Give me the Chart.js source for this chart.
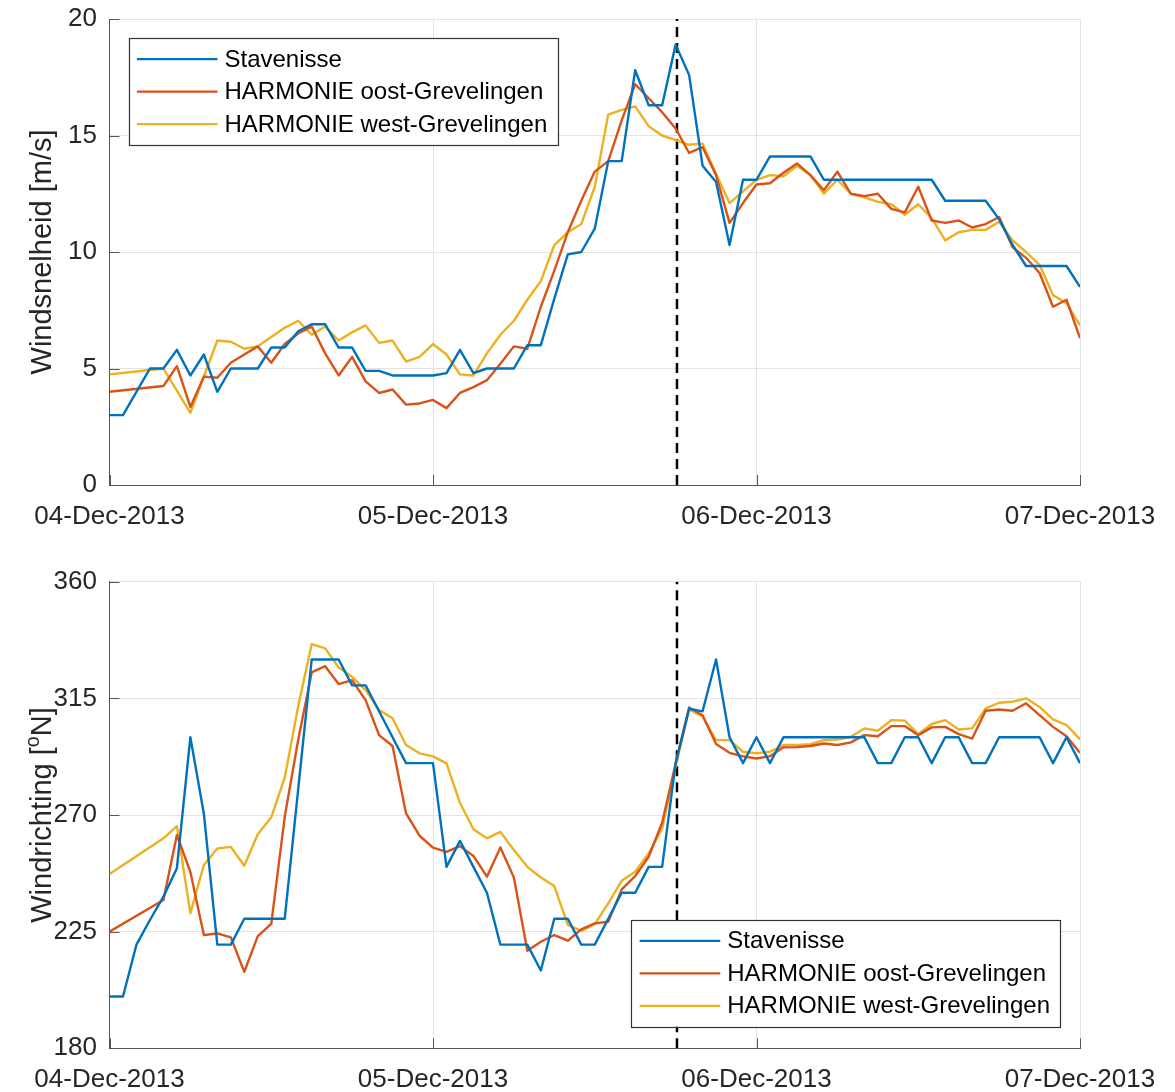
<!DOCTYPE html>
<html>
<head>
<meta charset="utf-8">
<title>Windsnelheid en windrichting</title>
<script src="https://cdn.jsdelivr.net/npm/chart.js@4.4.1/dist/chart.umd.min.js"></script>
<style>
  html, body { margin: 0; padding: 0; background: #fff; }
  .panel { position: absolute; left: 0; width: 1175px; height: 546px; }
</style>
</head>
<body>
<div class="panel" style="top:0px"><canvas id="speedChart"></canvas></div>
<div class="panel" style="top:546px"><canvas id="dirChart"></canvas></div>
<script>
// hourly values, 04-Dec-2013 00:00 .. 07-Dec-2013 00:00 (null = no sample)
var tickLabels = ['04-Dec-2013', '05-Dec-2013', '06-Dec-2013', '07-Dec-2013'];
var seriesNames = ['Stavenisse', 'HARMONIE oost-Grevelingen', 'HARMONIE west-Grevelingen'];
var eventHour = 42.1;

var speedStavenisse = [3.0,3.0,4.0,5.0,5.0,5.8,4.7,5.6,4.0,5.0,
  5.0,5.0,5.9,5.9,6.6,6.9,6.9,5.9,5.9,4.9,
  4.9,4.7,4.7,4.7,4.7,4.8,5.8,4.8,5.0,5.0,
  5.0,6.0,6.0,8.0,9.9,10.0,11.0,13.9,13.9,17.8,
  16.3,16.3,18.9,17.6,13.7,13.0,10.3,13.1,13.1,14.1,
  14.1,14.1,14.1,13.1,13.1,13.1,13.1,13.1,13.1,13.1,
  13.1,13.1,12.2,12.2,12.2,12.2,11.4,10.3,9.4,9.4,
  9.4,9.4,8.5];
var speedOost = [4.0,null,null,null,4.25,5.1,3.35,4.65,4.6,5.25,
  5.6,5.95,5.25,6.05,6.5,6.8,5.65,4.7,5.5,4.45,
  3.95,4.1,3.45,3.5,3.65,3.3,3.95,4.2,4.5,5.2,
  5.95,5.85,7.65,9.2,10.85,12.2,13.45,13.9,15.65,17.2,
  16.6,16.0,15.3,14.25,14.5,13.3,11.25,12.1,12.9,12.95,
  13.4,13.8,13.3,12.65,13.45,12.5,12.4,12.5,11.85,11.7,
  12.8,11.35,11.25,11.35,11.05,11.2,11.5,10.2,9.75,9.1,
  7.65,7.95,6.3];
var speedWest = [4.75,null,null,null,5.0,null,3.1,null,6.2,6.15,
  5.85,5.95,6.35,6.75,7.05,6.45,6.8,6.2,6.55,6.85,
  6.1,6.2,5.3,5.5,6.05,5.6,4.75,4.7,5.65,6.45,
  7.05,7.95,8.75,10.3,10.85,11.2,12.8,15.9,16.1,16.25,
  15.4,15.0,14.8,14.6,14.65,13.35,12.1,12.6,13.1,13.3,
  13.25,13.7,13.3,12.5,13.1,12.5,12.35,12.15,12.05,11.6,
  12.05,11.45,10.5,10.85,10.95,10.95,11.3,10.5,10.0,9.45,
  8.15,7.8,6.85];

var dirStavenisse = [200,200,220,229.5,238.5,249.5,300,270.5,220,220,
  230,230,230,230,280,330,330,330,320,320,
  310,300,290,290,290,250,260,250,240,220,
  220,220,210,230,230,220,220,230,240,240,
  250,250,290,311,310,330,300,290,300,290,
  300,300,300,300,300,300,300,290,290,300,
  300,290,300,300,290,290,300,300,300,300,
  290,300,290];
var dirOost = [225,null,null,null,237.2,262.3,248,223.7,224.3,222.8,
  209.5,223.3,228,269.3,299,325,327.4,320.5,322,314.3,
  300.8,296.6,270.6,262,257.4,255.8,258,254.2,246.2,257.5,
  245.9,217.6,221.1,223.7,221.5,225.9,228.2,228.8,241.3,246.4,
  253.9,267,289.9,311.5,308.5,297.4,294,292.6,291.8,292.7,
  296.1,296.2,296.6,297.6,297,298,300.8,300.4,304.3,304.3,
  300.8,303.8,304,301.2,299.5,310.2,310.7,310.2,313.1,308.5,
  304,300.4,294];
var dirWest = [247.2,null,null,null,261,265.7,232.1,250.7,257.1,257.7,
  250.4,262.6,269.1,284.4,312,335.9,334.3,326.9,323.3,318.2,
  310.5,307.3,297,293.8,292.6,289.9,274.7,264.5,261,263.5,
  256.5,250,245.9,242.6,227.6,225.3,227.9,235.9,244.6,248.1,
  255.2,264.8,288.6,310.7,307.9,298.9,298.9,294.4,293.8,294.4,
  297,297,297.3,298.9,299.1,300.2,303.4,302.5,306.6,306.4,
  301.2,305.1,306.6,303,303.4,311.1,313.3,313.7,315,311.7,
  306.9,304.7,299.2];

var colors = ['#0072BD', '#D95319', '#EDB120'];
var FONT = '"Liberation Sans", Arial, Helvetica, sans-serif';
Chart.defaults.font.family = FONT;
Chart.defaults.color = '#262626';

function toPoints(vals) {
  return vals.map(function (v, i) { return { x: i, y: v }; });
}

function lineSets(series, yMin, yMax) {
  var sets = series.map(function (vals, i) {
    return {
      label: seriesNames[i],
      data: toPoints(vals),
      borderColor: colors[i],
      borderWidth: 2.4,
      borderJoinStyle: 'round',
      pointRadius: 0,
      tension: 0,
      spanGaps: true,
      fill: false
    };
  });
  sets.push({
    label: 'event',
    hideInLegend: true,
    data: [{ x: eventHour, y: yMin }, { x: eventHour, y: yMax }],
    borderColor: '#000',
    borderWidth: 2.5,
    borderDash: [10, 6],
    pointRadius: 0,
    fill: false
  });
  return sets;
}

// inward ticks, boxed legend and y label (with superscript) like the original figure
var matlabAxes = {
  id: 'matlabAxes',
  afterDatasetsDraw: function (chart, args, opts) {
    var ctx = chart.ctx, area = chart.chartArea;
    var xs = chart.scales.x, ys = chart.scales.y;
    ctx.save();

    ctx.strokeStyle = '#555';
    ctx.lineWidth = 1;
    ctx.beginPath();
    xs.ticks.forEach(function (t) {
      var px = Math.round(xs.getPixelForValue(t.value)) + 0.5;
      ctx.moveTo(px, area.bottom);
      ctx.lineTo(px, area.bottom - 10);
    });
    ys.ticks.forEach(function (t) {
      var py = Math.round(ys.getPixelForValue(t.value)) + 0.5;
      ctx.moveTo(area.left, py);
      ctx.lineTo(area.left + 10, py);
    });
    ctx.stroke();

    // legend
    var items = chart.data.datasets.filter(function (d) { return !d.hideInLegend; });
    ctx.font = '24px ' + FONT;
    var tw = 0;
    items.forEach(function (d) { tw = Math.max(tw, ctx.measureText(d.label).width); });
    var padL = 8.4, lineLen = 80.6, gap = 7, padR = 10, rowH = 32.5, padT = 4.6;
    var w = padL + lineLen + gap + tw + padR;
    var h = padT * 2 + rowH * items.length;
    var L = opts.legend;
    var bx = L.corner === 'nw' ? area.left + L.dx : area.right - L.dx - w;
    var by = L.corner === 'nw' ? area.top + L.dy : area.bottom - L.dy - h;
    ctx.fillStyle = '#fff';
    ctx.fillRect(bx, by, w, h);
    ctx.strokeStyle = '#333';
    ctx.lineWidth = 1.2;
    ctx.strokeRect(Math.round(bx) + 0.5, Math.round(by) + 0.5, Math.round(w), Math.round(h));
    items.forEach(function (d, i) {
      var cy = by + padT + rowH * (i + 0.5);
      ctx.strokeStyle = d.borderColor;
      ctx.lineWidth = 2.2;
      ctx.beginPath();
      ctx.moveTo(bx + padL, cy);
      ctx.lineTo(bx + padL + lineLen, cy);
      ctx.stroke();
      ctx.fillStyle = '#000';
      ctx.textBaseline = 'middle';
      ctx.textAlign = 'left';
      ctx.fillText(d.label, bx + padL + lineLen + gap, cy + 1);
    });

    // y axis title
    var parts = opts.title;
    var size = 29;
    var total = 0;
    parts.forEach(function (p) {
      ctx.font = (p.sup ? size * 0.68 : size) + 'px ' + FONT;
      p.w = ctx.measureText(p.text).width;
      total += p.w;
    });
    ctx.translate(opts.titleX, (area.top + area.bottom) / 2);
    ctx.rotate(-Math.PI / 2);
    ctx.fillStyle = '#262626';
    ctx.textAlign = 'left';
    ctx.textBaseline = 'middle';
    var cx = -total / 2;
    parts.forEach(function (p) {
      ctx.font = (p.sup ? size * 0.68 : size) + 'px ' + FONT;
      ctx.fillText(p.text, cx, p.sup ? -size * 0.33 : 0);
      cx += p.w;
    });
    ctx.restore();
  }
};

function makeChart(id, series, yMin, yMax, yStep, padTop, xHeight, legend, title) {
  return new Chart(document.getElementById(id), {
    type: 'line',
    data: { datasets: lineSets(series, yMin, yMax) },
    plugins: [matlabAxes],
    options: {
      responsive: true,
      maintainAspectRatio: false,
      animation: false,
      layout: { padding: { left: 0, right: 95, top: padTop, bottom: 0 } },
      plugins: {
        legend: { display: false },
        tooltip: { enabled: false },
        matlabAxes: { legend: legend, title: title, titleX: 43 }
      },
      scales: {
        x: {
          type: 'linear',
          min: 0,
          max: 72,
          afterFit: function (s) { s.height = xHeight; },
          ticks: {
            stepSize: 24,
            autoSkip: false,
            maxRotation: 0,
            padding: 16,
            font: { size: 26 },
            color: '#262626',
            callback: function (v) { return tickLabels[v / 24]; }
          },
          grid: { color: '#e3e3e3', drawTicks: false },
          border: { display: true, color: '#555', width: 1 }
        },
        y: {
          min: yMin,
          max: yMax,
          afterFit: function (s) {
            s.width = 109.5;
            s.paddingTop = 0;
            s.paddingBottom = 0;
          },
          ticks: { stepSize: yStep, padding: 12.5, font: { size: 26 }, color: '#262626' },
          grid: { color: '#e3e3e3', drawTicks: false },
          border: { display: true, color: '#555', width: 1 }
        }
      }
    }
  });
}

makeChart('speedChart', [speedStavenisse, speedOost, speedWest], 0, 20, 5, 19, 61,
  { corner: 'nw', dx: 19, dy: 19.3 },
  [{ text: 'Windsnelheid [m/s]' }]);

makeChart('dirChart', [dirStavenisse, dirOost, dirWest], 180, 360, 45, 35.7, 43.7,
  { corner: 'se', dx: 20, dy: 21.6 },
  [{ text: 'Windrichting [' }, { text: 'o', sup: true }, { text: 'N]' }]);
</script>
</body>
</html>
